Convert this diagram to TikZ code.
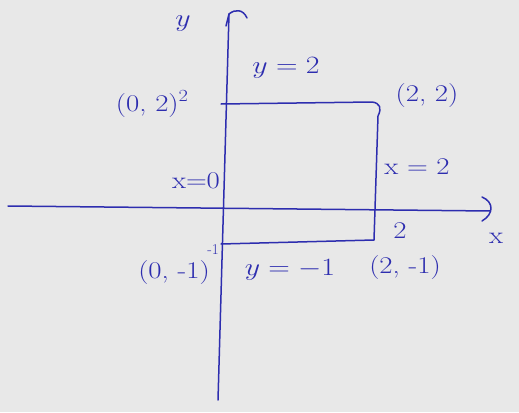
\documentclass[tikz,border=0pt]{standalone}
\usetikzlibrary{arrows.meta}
\definecolor{ink}{RGB}{45,45,175}
\definecolor{paper}{RGB}{232,232,232}
\begin{document}
\begin{tikzpicture}[x=1pt,y=-1pt,
  pen/.style={draw=ink,line width=1.5pt,line cap=round,line join=round},
  lbl/.style={text=ink,font=\fontsize{24}{26}\selectfont,inner sep=0pt,xscale=1.2,transform shape},
  small/.style={text=ink,font=\fontsize{15}{16}\selectfont,inner sep=0pt}]
\fill[paper] (0,0) rectangle (519,412);
\useasboundingbox (0,0) rectangle (519,412);
% axes
\coordinate (ybot) at (218,400);
\coordinate (ytop) at (229,14);
\coordinate (xl) at (8,206);
\coordinate (xr) at (490,211);
\draw[pen] (ybot) -- (ytop);
\draw[pen] (ytop) .. controls (235,9) and (243,9) .. (247,18);
\draw[pen] (ytop) -- (226,26);
\draw[pen] (xl) -- (xr);
\draw[pen] (482,197) .. controls (494,202) and (494,214) .. (482,221);
% rectangle
\coordinate (a) at (221,104);
\coordinate (c) at (374,240);
\coordinate (d) at (221,244);
\draw[pen] (a) -- (372,102) .. controls (380,103) and (382,108) .. (378,116) -- (c) -- (d);
% labels
\node[lbl] (ly) at (183,24) {$y$};
\node[lbl] (ly2) at (286,68) {$y = 2$};
\node[lbl] (l02) at (152,104) {(0, 2)\raisebox{1.0ex}{\fontsize{17}{18}\selectfont 2}};
\node[lbl] (l22) at (427,96) {(2, 2)};
\node[lbl] (lx2) at (417,167) {x = 2};
\node[lbl] (lx0) at (196,181) {x=0};
\node[lbl] (l2) at (400,231) {2};
\node[lbl] (lx) at (496,238) {x};
\node[small] (lm1) at (213,250) {-1};
\node[lbl] (l0m1) at (174,273) {(0, -1)};
\node[lbl] (lym1) at (290,270) {$y = -1$};
\node[lbl] (l2m1) at (405,268) {(2, -1)};
\end{tikzpicture}
\end{document}
